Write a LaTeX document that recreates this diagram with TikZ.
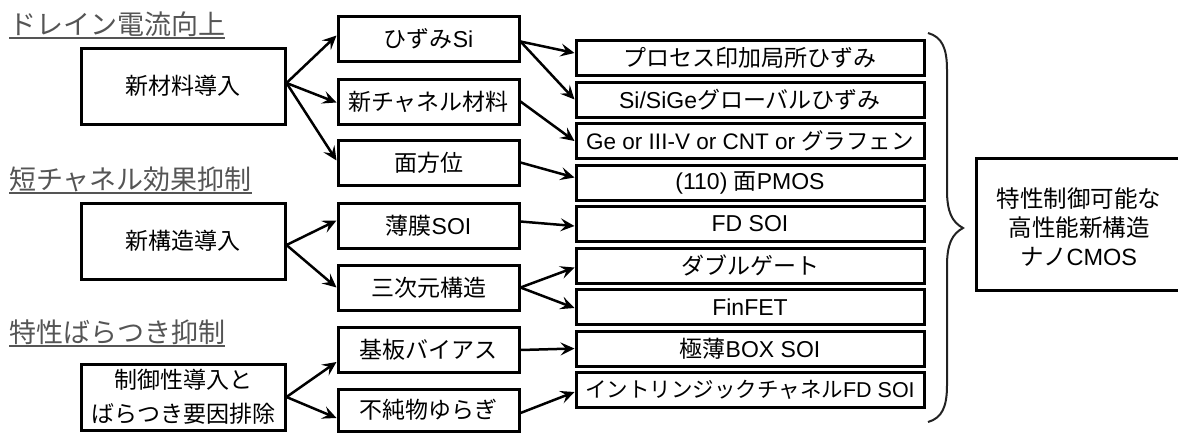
\documentclass[tikz,border=0pt]{standalone}
\usepackage{fontspec}
\setmainfont{Liberation Sans}
\newfontfamily\ja{Noto Sans CJK JP}
\usetikzlibrary{arrows.meta}
\newcommand\J[1]{{\ja #1}}
\definecolor{headgray}{HTML}{555555}
\definecolor{bracegray}{HTML}{222222}
\begin{document}
\begin{tikzpicture}[x=1pt,y=-1pt,
  box/.style={draw, line width=3pt, inner sep=0pt, font=\fontsize{23}{28}\selectfont, align=center},
  lbox/.style={box, minimum width=204pt},
  mbox/.style={box, minimum width=181pt, minimum height=45pt},
  rbox/.style={box, minimum width=348pt, minimum height=35pt},
  arr/.style={-{Stealth[length=14pt,width=13pt,inset=5.5pt]}, line width=2.5pt},
  head/.style={text=headgray, font=\fontsize{27}{32}\selectfont\ja, inner sep=0pt, anchor=west},
  ul/.style={draw=headgray, line width=2pt},
  brace/.style={draw=bracegray, line width=2pt}]
\useasboundingbox (0,0) rectangle (1178,432);

% headings
\node[head] (h1) at (9,24) {ドレイン電流向上};
\node[head] (h2) at (9,179) {短チャネル効果抑制};
\node[head] (h3) at (9,332) {特性ばらつき抑制};
\draw[ul] ([yshift=-1pt]h1.south west) -- ([yshift=-1pt]h1.south east);
\draw[ul] ([yshift=-1pt]h2.south west) -- ([yshift=-1pt]h2.south east);
\draw[ul] ([yshift=-1pt]h3.south west) -- ([yshift=-1pt]h3.south east);

% left boxes
\node[lbox, minimum height=76pt] (L1) at (183,86) {\J{新材料導入}};
\node[lbox, minimum height=76pt] (L2) at (183,241) {\J{新構造導入}};
\node[lbox, minimum height=66pt, font=\fontsize{23}{34}\selectfont] (L3) at (183,397) {\J{制御性導入と}\\\J{ばらつき要因排除}};

% middle boxes
\node[mbox] (M1) at (428.5,38.5) {\J{ひずみ}Si};
\node[mbox] (M2) at (428.5,101.5) {\J{新チャネル材料}};
\node[mbox] (M3) at (428.5,162.5) {\J{面方位}};
\node[mbox] (M4) at (428.5,225.5) {\J{薄膜}SOI};
\node[mbox] (M5) at (428.5,287.5) {\J{三次元構造}};
\node[mbox] (M6) at (428.5,350) {\J{基板バイアス}};
\node[mbox, minimum height=42pt] (M7) at (428.5,410) {\J{不純物ゆらぎ}};

% right boxes
\node[rbox] (R1) at (750,58) {\J{プロセス印加局所ひずみ}};
\node[rbox] (R2) at (750,99.5) {Si/SiGe\J{グローバルひずみ}};
\node[rbox, font=\fontsize{22.5}{28}\selectfont] (R3) at (750,141) {Ge or III-V or CNT or \J{グラフェン}};
\node[rbox] (R4) at (750,182.5) {(110) \J{面}PMOS};
\node[rbox] (R5) at (750,224) {FD SOI};
\node[rbox] (R6) at (750,265.5) {\J{ダブルゲート}};
\node[rbox] (R7) at (750,307) {FinFET};
\node[rbox] (R8) at (750,348.5) {\J{極薄}BOX SOI};
\node[rbox, font=\fontsize{21.5}{28}\selectfont] (R9) at (750,390) {\J{イントリンジックチャネル}FD SOI};

% final box
\node[box, minimum width=210pt, minimum height=132pt, anchor=west] (F) at (975,224) {};
\node[font=\fontsize{23.5}{29}\selectfont, align=center, inner sep=0pt] (Ft) at (1079,227) {\J{特性制御可能な}\\\J{高性能新構造}\\\J{ナノ}CMOS};

% brace
\draw[brace] (928,33) .. controls (942,37) and (947,48) .. (947,70)
  -- (947,190) .. controls (947,212) and (952,222) .. (963,228)
  .. controls (952,234) and (947,244) .. (947,266)
  -- (947,385) .. controls (947,407) and (942,418) .. (928,422);

% arrows left -> middle
\draw[arr] ([yshift=3pt]L1.east) -- ([yshift=3pt]M1.west);
\draw[arr] ([yshift=3pt]L1.east) -- ([yshift=-1pt]M2.west);
\draw[arr] ([yshift=3pt]L1.east) -- ([yshift=2pt]M3.west);
\draw[arr] ([yshift=-4pt]L2.east) -- ([yshift=5pt]M4.west);
\draw[arr] ([yshift=-4pt]L2.east) -- (M5.west);
\draw[arr] (L3.east) -- ([yshift=-12pt]M6.west);
\draw[arr] (L3.east) -- ([yshift=-8pt]M7.west);

% arrows middle -> right
\draw[arr] ([yshift=-3pt]M1.east) -- ([yshift=5pt]R1.west);
\draw[arr] ([yshift=-3pt]M1.east) -- (R2.west);
\draw[arr] (M2.east) -- (R3.west);
\draw[arr] (M3.east) -- ([yshift=5pt]R4.west);
\draw[arr] ([yshift=4pt]M4.east) -- ([yshift=-2pt]R5.west);
\draw[arr] (M5.east) -- ([yshift=-2pt]R6.west);
\draw[arr] (M5.east) -- ([yshift=-1pt]R7.west);
\draw[arr] (M6.east) -- (R8.west);
\draw[arr] ([yshift=-3pt]M7.east) -- ([yshift=-2pt]R9.west);
\end{tikzpicture}
\end{document}
